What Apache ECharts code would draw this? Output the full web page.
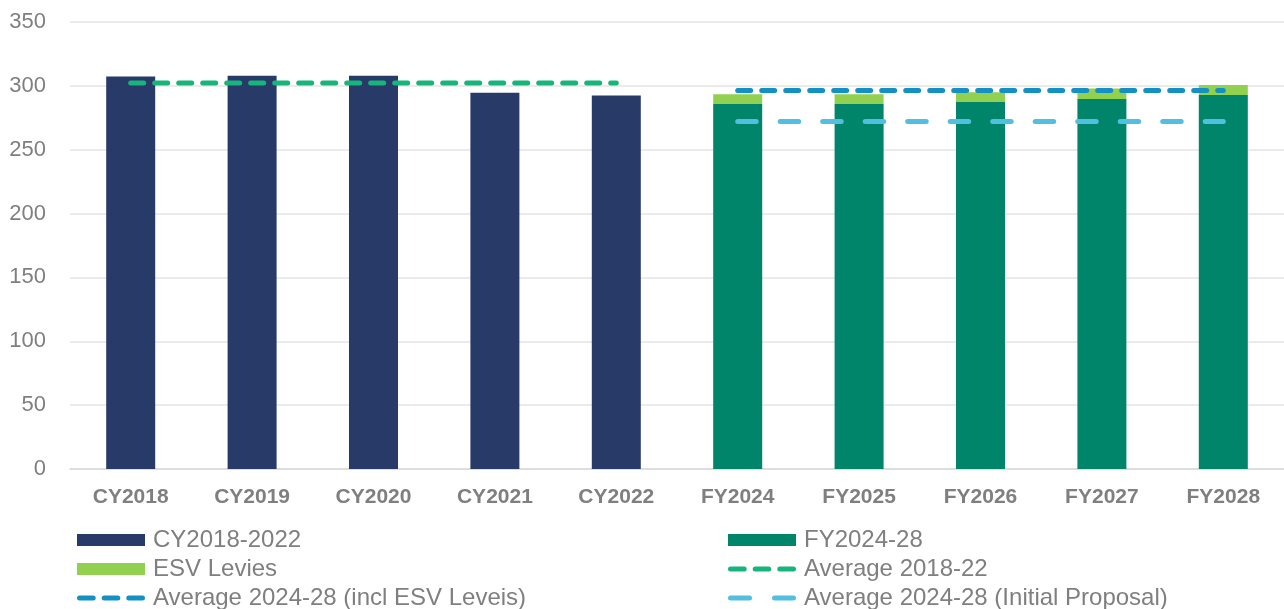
<!DOCTYPE html>
<html>
<head>
<meta charset="utf-8">
<script src="https://cdn.jsdelivr.net/npm/echarts@6/dist/echarts.min.js"></script>
<style>
  html, body { margin: 0; padding: 0; background: #fff; }
  #chart { width: 1284px; height: 609px; }
</style>
</head>
<body>
<div id="chart"></div>
<script>
// Categories along the x axis
const categories = ['CY2018', 'CY2019', 'CY2020', 'CY2021', 'CY2022',
                    'FY2024', 'FY2025', 'FY2026', 'FY2027', 'FY2028'];

// Historic calendar-year values (CY2018-2022)
const historic = [307.3, 308.0, 308.0, 294.7, 292.4, null, null, null, null, null];
// Forecast financial-year values (FY2024-28), excluding levies
const forecast = [null, null, null, null, null, 285.8, 285.8, 287.4, 289.8, 292.9];
// ESV levies stacked on top of the forecast
const esvLevies = [null, null, null, null, null, 7.6, 7.6, 7.6, 8.1, 7.8];

// Average lines
const avg2018 = [302.3, 302.3, 302.3, 302.3, 302.3, null, null, null, null, null];
const avgInclEsv = [null, null, null, null, null, 296.3, 296.3, 296.3, 296.3, 296.3];
const avgInitial = [null, null, null, null, null, 272.0, 272.0, 272.0, 272.0, 272.0];

// Y axis ticks
const yTicks = { min: 0, max: 350, interval: 50 };

const grey = '#7f7f7f';
const font = '"Liberation Sans", Arial, sans-serif';

// Legend swatches for the dashed lines: rounded dashes laid out along a 68px strip
function capsule(x0, x1) {
  const r = 2.5;
  return 'M' + (x0 + r) + ' 0 H' + (x1 - r) + ' A' + r + ' ' + r + ' 0 0 1 ' + (x1 - r) + ' 5 H' + (x0 + r) +
         ' A' + r + ' ' + r + ' 0 0 1 ' + (x0 + r) + ' 0 Z ';
}
const shortDashIcon = 'path://' + capsule(0, 18.7) + capsule(24.7, 43.3) + capsule(49.3, 68);
const longDashIcon = 'path://' + capsule(0, 24) + capsule(44, 68);

const chart = echarts.init(document.getElementById('chart'), null, { renderer: 'canvas' });

const dashLine = (color, dash) => ({
  type: 'line',
  symbol: 'none',
  connectNulls: false,
  silent: true,
  z: 5,
  lineStyle: { color: color, width: 5, type: dash, cap: 'round' },
  itemStyle: { color: color }
});

const legendText = { color: grey, fontSize: 24, fontFamily: font, lineHeight: 24, padding: [0, 0, 0, 3] };
const legendBase = {
  orient: 'vertical', top: 528, height: 100, padding: 0, itemWidth: 68, itemHeight: 12, itemGap: 5,
  symbolKeepAspect: true, textStyle: legendText
};

chart.setOption({
  animation: false,
  textStyle: { fontFamily: font },
  grid: { left: 70, right: 0, top: 22, bottom: 140, containLabel: false },
  legend: [
    Object.assign({}, legendBase, {
      left: 77,
      data: [
        { name: 'CY2018-2022', icon: 'rect' },
        { name: 'ESV Levies', icon: 'rect' },
        { name: 'Average 2024-28 (incl ESV Leveis)', icon: shortDashIcon }
      ]
    }),
    Object.assign({}, legendBase, {
      left: 728,
      data: [
        { name: 'FY2024-28', icon: 'rect' },
        { name: 'Average 2018-22', icon: shortDashIcon },
        { name: 'Average 2024-28 (Initial Proposal)', icon: longDashIcon }
      ]
    })
  ],
  xAxis: {
    type: 'category',
    data: categories,
    axisLine: { lineStyle: { color: '#d9d9d9', width: 1.5 } },
    axisTick: { show: false },
    axisLabel: { color: grey, fontSize: 21, fontWeight: 'bold', fontFamily: font, margin: 18 }
  },
  yAxis: {
    type: 'value',
    min: yTicks.min, max: yTicks.max, interval: yTicks.interval,
    axisLine: { show: false },
    axisTick: { show: false },
    axisLabel: { color: grey, fontSize: 22, fontFamily: font, margin: 24 },
    splitLine: { lineStyle: { color: '#e4e4e4', width: 1.5 } }
  },
  series: [
    {
      name: 'CY2018-2022', type: 'bar', stack: 'total', barWidth: 49,
      itemStyle: { color: '#273A68' }, data: historic
    },
    {
      name: 'FY2024-28', type: 'bar', stack: 'total', barWidth: 49,
      itemStyle: { color: '#00846A' }, data: forecast
    },
    {
      name: 'ESV Levies', type: 'bar', stack: 'total', barWidth: 49,
      itemStyle: { color: '#92D050' }, data: esvLevies
    },
    Object.assign(dashLine('#17B47C', [13, 11]), { name: 'Average 2018-22', data: avg2018 }),
    Object.assign(dashLine('#1390C4', [13, 11]), { name: 'Average 2024-28 (incl ESV Leveis)', data: avgInclEsv }),
    Object.assign(dashLine('#52BEE0', [18.5, 24]), { name: 'Average 2024-28 (Initial Proposal)', data: avgInitial })
  ]
});
</script>
</body>
</html>
